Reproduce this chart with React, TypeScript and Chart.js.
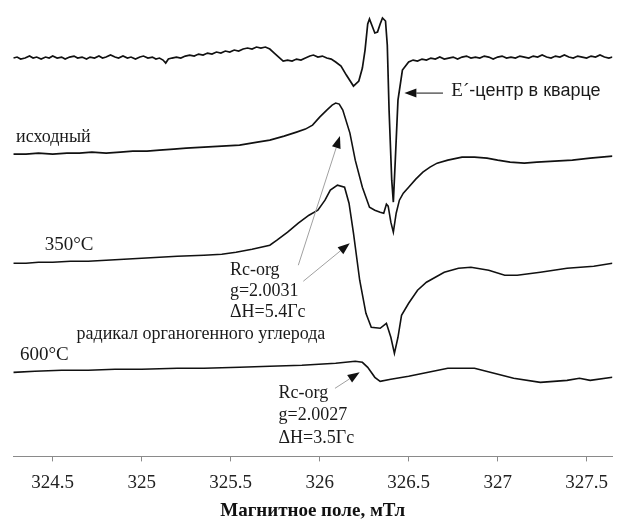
import React, { useEffect, useRef } from "react";
import { Chart, registerables } from "chart.js";

Chart.register(...registerables);

// Magnetic field (mT) range and tick labels
const fieldMin = 324.277;
const fieldMax = 327.645;
const fieldTicks = [324.5, 325, 325.5, 326, 326.5, 327, 327.5];

// Vertical offsets of the four spectra (arbitrary units)
const traceOffsets = [400, 300, 200, 90];

// Spectrum 1: E'-centre in quartz [field mT, signal a.u.]
const quartzSpectrum: [number, number][] = [
  [324.28, -2], [324.3, -1], [324.32, -3], [324.345, -2], [324.37, 0], [324.39, -2],
  [324.41, -1], [324.435, -3], [324.46, -1], [324.48, -2], [324.5, 0], [324.525, -2],
  [324.55, -1], [324.57, -3], [324.595, -1], [324.62, 0], [324.64, -2], [324.665, -1],
  [324.69, -3], [324.71, -1], [324.735, -2], [324.76, 0], [324.78, -2], [324.8, -1],
  [324.825, 1], [324.85, -1], [324.87, -2], [324.895, 0], [324.92, -2], [324.94, -1],
  [324.965, -3], [324.99, -1], [325.01, 0], [325.035, -2], [325.06, -1], [325.08, -3],
  [325.1, -2], [325.12, -4], [325.135, -7], [325.15, -3], [325.17, -2], [325.195, -1],
  [325.22, -2], [325.245, 0], [325.27, 1], [325.295, 0], [325.32, 2], [325.345, 1],
  [325.37, 3], [325.395, 2], [325.42, 4], [325.445, 3], [325.47, 5], [325.495, 4],
  [325.52, 6], [325.545, 5], [325.57, 7], [325.595, 8], [325.62, 7], [325.645, 9],
  [325.67, 8], [325.695, 9], [325.72, 7], [325.745, 3], [325.77, -1], [325.795, -5],
  [325.82, -4], [325.845, -5], [325.87, -3], [325.895, -4], [325.92, -2], [325.945, 0],
  [325.965, 1], [325.99, -1], [326.015, 0], [326.04, -2], [326.065, -3], [326.09, -6],
  [326.12, -10], [326.15, -19], [326.19, -30], [326.22, -25], [326.24, -12], [326.255, 6],
  [326.27, 32], [326.28, 37], [326.295, 30], [326.31, 23], [326.325, 24], [326.34, 32],
  [326.353, 38], [326.37, 35], [326.38, 11], [326.39, -54], [326.405, -124], [326.414, -146],
  [326.425, -104], [326.44, -44], [326.465, -14], [326.5, -6], [326.525, -4], [326.55, -5],
  [326.575, -3], [326.6, -4], [326.625, -2], [326.65, -3], [326.675, -1], [326.7, -3],
  [326.725, -2], [326.75, -1], [326.775, -3], [326.8, -1], [326.825, 0], [326.85, -2],
  [326.875, -1], [326.9, -2], [326.925, 0], [326.95, -1], [326.975, -3], [327.0, -1],
  [327.025, 0], [327.05, -2], [327.075, -1], [327.1, -2], [327.125, 0], [327.15, -1],
  [327.175, -2], [327.2, 0], [327.225, -1], [327.25, 1], [327.275, -1], [327.3, -2],
  [327.325, 0], [327.35, -1], [327.375, 1], [327.4, -1], [327.425, -2], [327.45, 0],
  [327.475, -1], [327.5, -2], [327.525, 0], [327.55, -1], [327.575, 1], [327.6, -1],
  [327.625, -2], [327.645, -1],
];

// Spectrum 2: initial sample ("исходный")
const initialSpectrum: [number, number][] = [
  [324.28, 2], [324.35, 2], [324.42, 3], [324.5, 2], [324.58, 3], [324.65, 3],
  [324.72, 4], [324.8, 3], [324.88, 4], [324.95, 5], [325.03, 5], [325.1, 6],
  [325.18, 7], [325.25, 8], [325.35, 9], [325.45, 10], [325.55, 11], [325.65, 14],
  [325.72, 16], [325.8, 20], [325.87, 24], [325.92, 27], [325.96, 31], [326.0, 39],
  [326.04, 46], [326.07, 51], [326.09, 53], [326.11, 52], [326.13, 46], [326.17, 23],
  [326.2, -4], [326.24, -31], [326.28, -51], [326.31, -54], [326.34, -56], [326.36, -57],
  [326.375, -48], [326.385, -50], [326.4, -66], [326.414, -76], [326.43, -57], [326.448, -44],
  [326.47, -37], [326.5, -31], [326.54, -23], [326.58, -16], [326.62, -11], [326.66, -7],
  [326.72, -4], [326.8, -1], [326.87, -1], [326.94, -2], [327.0, -4], [327.07, -6],
  [327.15, -7], [327.22, -6], [327.32, -5], [327.42, -4], [327.52, -2], [327.645, 0],
];

// Spectrum 3: 350°C
const spectrum350: [number, number][] = [
  [324.28, -7], [324.35, -7], [324.42, -6], [324.5, -6], [324.6, -5], [324.7, -5],
  [324.8, -4], [324.9, -3], [325.0, -2], [325.1, -1], [325.2, 0], [325.35, 1],
  [325.45, 2], [325.53, 4], [325.62, 7], [325.72, 11], [325.76, 16], [325.82, 24],
  [325.88, 33], [325.94, 41], [325.99, 46], [326.03, 56], [326.06, 66], [326.1, 71],
  [326.14, 69], [326.165, 53], [326.19, 23], [326.225, -24], [326.26, -57], [326.29, -71],
  [326.34, -72], [326.375, -67], [326.4, -81], [326.42, -97], [326.44, -81], [326.46, -59],
  [326.5, -47], [326.55, -34], [326.6, -26], [326.65, -21], [326.7, -16], [326.78, -12],
  [326.85, -11], [326.95, -14], [327.04, -19], [327.11, -19], [327.24, -16], [327.39, -12],
  [327.54, -10], [327.645, -7],
];

// Spectrum 4: 600°C
const spectrum600: [number, number][] = [
  [324.28, -6], [324.4, -5], [324.55, -4], [324.7, -4], [324.85, -3], [325.0, -3],
  [325.2, -2], [325.35, -2], [325.55, -1], [325.72, 0], [325.9, 1], [326.09, 3],
  [326.2, 5], [326.24, 4], [326.27, -1], [326.31, -11], [326.34, -15], [326.4, -13],
  [326.5, -10], [326.61, -6], [326.72, -2], [326.87, -2], [326.98, -7], [327.09, -12],
  [327.24, -16], [327.39, -14], [327.46, -12], [327.52, -14], [327.645, -11],
];

const spectra = [quartzSpectrum, initialSpectrum, spectrum350, spectrum600];
const spectrumNames = ["E′-центр", "исходный", "350°C", "600°C"];

const SERIF = "'Liberation Serif', 'Times New Roman', serif";
const SANS = "'Liberation Sans', Arial, sans-serif";

// Text annotations, anchored in axis units (field mT, plot units)
const textNotes = [
  { parts: [{ text: "исходный", font: `18px ${SERIF}` }], x: 324.294, y: 319 },
  { parts: [{ text: "350°C", font: `19px ${SERIF}` }], x: 324.455, y: 211 },
  { parts: [{ text: "600°C", font: `19px ${SERIF}` }], x: 324.316, y: 101 },
  {
    parts: [
      { text: "E´", font: `19px ${SERIF}` },
      { text: "-центр в кварце", font: `18px ${SANS}` },
    ],
    x: 326.74,
    y: 365,
  },
  { parts: [{ text: "Rc-org", font: `18px ${SERIF}` }], x: 325.496, y: 186 },
  { parts: [{ text: "g=2.0031", font: `18px ${SERIF}` }], x: 325.496, y: 165 },
  { parts: [{ text: "ΔH=5.4Гс", font: `18px ${SERIF}` }], x: 325.496, y: 144 },
  { parts: [{ text: "радикал органогенного углерода", font: `18px ${SERIF}` }], x: 324.634, y: 122 },
  { parts: [{ text: "Rc-org", font: `18px ${SERIF}` }], x: 325.769, y: 63 },
  { parts: [{ text: "g=2.0027", font: `18px ${SERIF}` }], x: 325.769, y: 41 },
  { parts: [{ text: "ΔH=3.5Гс", font: `18px ${SERIF}` }], x: 325.769, y: 18 },
];

// Arrows: from (x1,y1) to tip (x2,y2), axis units
const arrowNotes = [
  { x1: 326.693, y1: 363, x2: 326.476, y2: 363, color: "#111" },
  { x1: 325.88, y1: 191, x2: 326.114, y2: 320, color: "#a0a0a0" },
  { x1: 325.908, y1: 175, x2: 326.169, y2: 213, color: "#a0a0a0" },
  { x1: 326.086, y1: 68, x2: 326.225, y2: 84, color: "#a0a0a0" },
];

const annotationPlugin = {
  id: "epr-annotations",
  afterDatasetsDraw(chart: any) {
    const ctx = chart.ctx as CanvasRenderingContext2D;
    const xs = chart.scales.x;
    const ys = chart.scales.y;
    const X = (v: number) => xs.getPixelForValue(v);
    const Y = (v: number) => ys.getPixelForValue(v);
    ctx.save();
    ctx.textAlign = "left";
    ctx.textBaseline = "middle";
    ctx.fillStyle = "#1a1a1a";
    for (const t of textNotes) {
      let px = X(t.x);
      for (const p of t.parts) {
        ctx.font = p.font;
        ctx.fillText(p.text, px, Y(t.y));
        px += ctx.measureText(p.text).width;
      }
    }
    for (const a of arrowNotes) {
      const x1 = X(a.x1), y1 = Y(a.y1), x2 = X(a.x2), y2 = Y(a.y2);
      const ang = Math.atan2(y2 - y1, x2 - x1);
      const len = 12, half = 4.5;
      const bx = x2 - len * Math.cos(ang), by = y2 - len * Math.sin(ang);
      ctx.strokeStyle = a.color;
      ctx.lineWidth = 1;
      ctx.beginPath();
      ctx.moveTo(x1, y1);
      ctx.lineTo(bx, by);
      ctx.stroke();
      ctx.fillStyle = "#111";
      ctx.beginPath();
      ctx.moveTo(x2, y2);
      ctx.lineTo(bx + half * Math.sin(ang), by - half * Math.cos(ang));
      ctx.lineTo(bx - half * Math.sin(ang), by + half * Math.cos(ang));
      ctx.closePath();
      ctx.fill();
    }
    ctx.restore();
  },
};

export default function App() {
  const ref = useRef<HTMLCanvasElement | null>(null);

  useEffect(() => {
    if (!ref.current) return;
    const datasets = spectra.map((s, i) => ({
      label: spectrumNames[i],
      data: s.map(([x, v]) => ({ x, y: v + traceOffsets[i] })),
      borderColor: "#111",
      borderWidth: i === 0 ? 1.7 : 1.6,
      pointRadius: 0,
      tension: 0,
      fill: false,
    }));
    const chart = new Chart(ref.current, {
      type: "line",
      data: { datasets },
      options: {
        animation: false,
        responsive: false,
        devicePixelRatio: 1,
        layout: { padding: { left: 13, right: 0, top: 0, bottom: 1 } },
        plugins: { legend: { display: false }, tooltip: { enabled: false } },
        scales: {
          x: {
            type: "linear",
            min: fieldMin,
            max: fieldMax,
            afterBuildTicks: (scale: any) => {
              scale.ticks = fieldTicks.map((v) => ({ value: v }));
            },
            ticks: {
              includeBounds: false,
              autoSkip: false,
              maxRotation: 0,
              minRotation: 0,
              padding: 10,
              color: "#222",
              font: { family: SERIF, size: 19 },
              callback: (v: any) => String(v),
            },
            grid: {
              display: true,
              drawOnChartArea: false,
              drawTicks: true,
              tickLength: 5,
              color: "#8a8a8a",
              lineWidth: 1,
            },
            border: { display: true, color: "#8a8a8a", width: 1 },
            title: {
              display: true,
              text: "Магнитное поле, мТл",
              color: "#111",
              font: { family: SERIF, size: 19, weight: "bold" },
              padding: { top: -5, bottom: 0 },
            },
          },
          y: { display: false, min: 0, max: 456 },
        },
      },
      plugins: [annotationPlugin],
    } as any);
    return () => chart.destroy();
  }, []);

  return (
    <div style={{ position: "fixed", left: 0, top: 0, width: 618, height: 523, background: "#fff" }}>
      <canvas ref={ref} width={618} height={523} style={{ display: "block" }} />
    </div>
  );
}
